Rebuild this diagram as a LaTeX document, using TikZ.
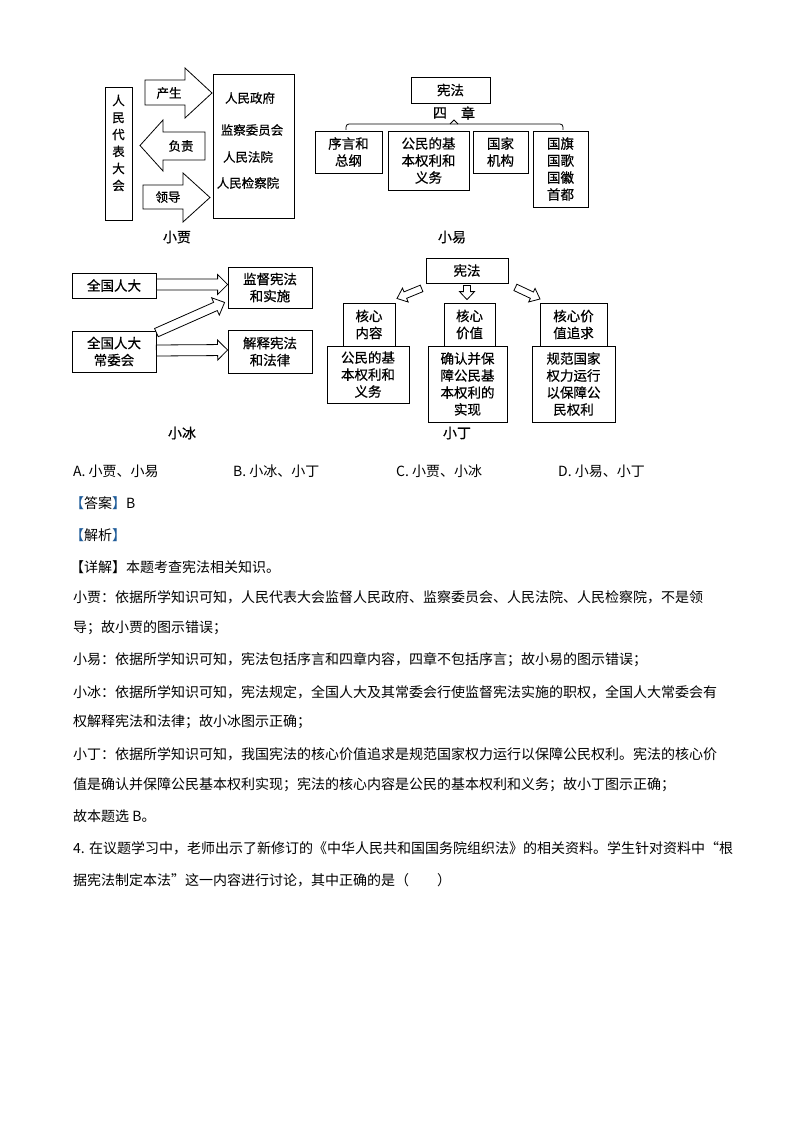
\documentclass[tikz,border=0pt]{standalone}
\usepackage{fontspec}
\setmainfont{Noto Sans CJK SC}
\newfontfamily\dgmfont{Noto Sans CJK SC}[FakeBold=0.6]
\usetikzlibrary{calc}
\definecolor{brk}{HTML}{1F5C99}
\tikzset{
  bx/.style={draw, line width=0.8pt, inner sep=0pt, align=center, font=\dgmfont\fontsize{13.5}{17}\selectfont},
  sbx/.style={draw, line width=0.8pt, inner sep=0pt},
  lbl/.style={inner sep=0pt, align=center, font=\dgmfont\fontsize{12.5}{17}\selectfont},
  captxt/.style={inner sep=0pt, font=\dgmfont\fontsize{14}{17}\selectfont},
  body/.style={anchor=west, inner sep=0pt, font=\fontsize{14}{17}\selectfont},
  hollow/.style={draw, line width=0.8pt, fill=white, line join=miter},
  bigarrow/.style={draw, line width=0.8pt, line join=miter}
}
\newcommand\harrow[5]{%
  \coordinate (hh) at ($(#2)!#5!(#1)$);
  \draw[hollow] ($(#1)!#3!90:(#2)$) -- ($(hh)!#3!90:(#2)$) -- ($(hh)!#4!90:(#2)$) -- (#2)
    -- ($(hh)!#4!-90:(#2)$) -- ($(hh)!#3!-90:(#2)$) -- ($(#1)!#3!-90:(#2)$) -- cycle;
}
\begin{document}
\begin{tikzpicture}[x=1pt,y=-1pt]
\useasboundingbox[fill=white] (0,0) rectangle (794,1123);

% ---------------- 小贾 ----------------
\node[sbx, minimum width=27pt, minimum height=133pt] (rd) at (118.5,153.5) {};
\node[lbl] (rdt) at (118.5,143) {人\\民\\代\\表\\大\\会};
\node[sbx, minimum width=81pt, minimum height=144pt] (org) at (253.5,146) {};
\node[lbl] (o1) at (250,98) {人民政府};
\node[lbl] (o2) at (252,130) {监察委员会};
\node[lbl] (o3) at (248,157) {人民法院};
\node[lbl] (o4) at (248,183) {人民检察院};
\draw[bigarrow] (145,80) -- (185,80) -- (185,68) -- (212,93) -- (185,118) -- (185,105) -- (145,105) -- cycle;
\node[lbl] (a1) at (169,93) {产生};
\draw[bigarrow] (205,132) -- (163,132) -- (163,120) -- (140,145.5) -- (163,171) -- (163,160) -- (205,160) -- cycle;
\node[lbl] (a2) at (181,146) {负责};
\draw[bigarrow] (143,185) -- (183,185) -- (183,173) -- (210,197.5) -- (183,222) -- (183,209) -- (143,209) -- cycle;
\node[lbl] (a3) at (168,197) {领导};
\node[captxt] (c1) at (177,237) {小贾};

% ---------------- 小易 ----------------
\node[bx, minimum width=79pt, minimum height=26pt] (xf) at (450.5,90) {宪法};
\node[captxt] (si) at (440,113) {四};
\node[captxt] (zh) at (468,113) {章};
\draw[line width=0.8pt, rounded corners=3pt] (346,130) -- (346,124) -- (454,124);
\draw[line width=0.8pt, rounded corners=3pt] (454,124) -- (563,124) -- (563,130);
\draw[line width=0.8pt] (450,124) -- (454,120) -- (458,124);
\node[bx, minimum width=67pt, minimum height=42pt] (y1) at (348.5,152) {序言和\\总纲};
\node[bx, minimum width=81pt, minimum height=59pt] (y2) at (428.5,160.5) {公民的基\\本权利和\\义务};
\node[bx, minimum width=55pt, minimum height=42pt] (y3) at (500.5,152) {国家\\机构};
\node[bx, minimum width=55pt, minimum height=76pt] (y4) at (560.5,169) {国旗\\国歌\\国徽\\首都};
\node[captxt] (c2) at (452,237) {小易};

% ---------------- 小冰 ----------------
\node[bx, minimum width=84pt, minimum height=25pt] (qg) at (114,285.5) {全国人大};
\node[bx, minimum width=84pt, minimum height=41pt] (cw) at (114,351.5) {全国人大\\常委会};
\node[bx, minimum width=84pt, minimum height=41pt] (jd) at (270,287.5) {监督宪法\\和实施};
\node[bx, minimum width=84pt, minimum height=43pt] (js) at (270,351.5) {解释宪法\\和法律};
\coordinate (b1s) at ($(qg.east)+(0,-1)$);
\coordinate (b1e) at ($(jd.west)+(0,-3)$);
\harrow{b1s}{b1e}{5.5pt}{10pt}{10pt}
\coordinate (b2s) at ($(cw.north east)+(0,2)$);
\coordinate (b2e) at ($(jd.south west)+(-3,-6)$);
\harrow{b2s}{b2e}{4.5pt}{9.5pt}{10pt}
\coordinate (b3s) at ($(cw.east)+(0,-1)$);
\coordinate (b3e) at ($(js.west)+(0,-1.5)$);
\harrow{b3s}{b3e}{5.5pt}{10pt}{10pt}
\node[captxt] (c3) at (182,433) {小冰};

% ---------------- 小丁 ----------------
\node[bx, minimum width=82pt, minimum height=25pt] (top) at (467,270.5) {宪法};
\node[bx, minimum width=52pt, minimum height=43pt] (k1) at (369,324.5) {核心\\内容};
\node[bx, minimum width=51pt, minimum height=43pt] (k2) at (469.5,324.5) {核心\\价值};
\node[bx, minimum width=67pt, minimum height=43pt] (k3) at (573.5,324.5) {核心价\\值追求};
\node[bx, minimum width=82pt, minimum height=57pt] (d1) at (368,374.5) {公民的基\\本权利和\\义务};
\node[bx, minimum width=79pt, minimum height=76pt] (d2) at (467.5,384) {确认并保\\障公民基\\本权利的\\实现};
\node[bx, minimum width=83pt, minimum height=76pt] (d3) at (573.5,384) {规范国家\\权力运行\\以保障公\\民权利};
\coordinate (t1s) at ($(top.south west)+(-4,5)$);
\coordinate (t1e) at (397,298.5);
\harrow{t1s}{t1e}{3.5pt}{7.5pt}{9pt}
\coordinate (t2s) at ($(top.south)+(0,2)$);
\coordinate (t2e) at ($(k2.north)+(-2.5,-3)$);
\harrow{t2s}{t2e}{3.5pt}{7.5pt}{8pt}
\coordinate (t3s) at ($(top.south east)+(7,4)$);
\coordinate (t3e) at (540,299);
\harrow{t3s}{t3e}{3.5pt}{7.5pt}{9pt}
\node[captxt] (c4) at (457,433) {小丁};

% ---------------- options & text ----------------
\node[body] (oa) at (73,471) {A. 小贾、小易};
\node[body] (ob) at (233,471) {B. 小冰、小丁};
\node[body] (oc) at (396,471) {C. 小贾、小冰};
\node[body] (od) at (558,471) {D. 小易、小丁};
\node[body] (ans) at (70,503) {\textcolor{brk}{【}答案\textcolor{brk}{】}B};
\node[body] (jx) at (70,535) {\textcolor{brk}{【}解析\textcolor{brk}{】}};
\node[body] (l1) at (70,567) {【详解】本题考查宪法相关知识。};
\node[body] (l2) at (73,597) {小贾：依据所学知识可知，人民代表大会监督人民政府、监察委员会、人民法院、人民检察院，不是领};
\node[body] (l3) at (73,628) {导；故小贾的图示错误；};
\node[body] (l4) at (73,660) {小易：依据所学知识可知，宪法包括序言和四章内容，四章不包括序言；故小易的图示错误；};
\node[body] (l5) at (73,692) {小冰：依据所学知识可知，宪法规定，全国人大及其常委会行使监督宪法实施的职权，全国人大常委会有};
\node[body] (l6) at (73,722) {权解释宪法和法律；故小冰图示正确；};
\node[body] (l7) at (73,754) {小丁：依据所学知识可知，我国宪法的核心价值追求是规范国家权力运行以保障公民权利。宪法的核心价};
\node[body] (l8) at (73,785) {值是确认并保障公民基本权利实现；宪法的核心内容是公民的基本权利和义务；故小丁图示正确；};
\node[body] (l9) at (73,816) {故本题选 B。};
\node[body] (l10) at (73,848) {4. 在议题学习中，老师出示了新修订的《中华人民共和国国务院组织法》的相关资料。学生针对资料中“根};
\node[body] (l11) at (73,880) {据宪法制定本法”这一内容进行讨论，其中正确的是（\hspace{2em}）};
\end{tikzpicture}
\end{document}
